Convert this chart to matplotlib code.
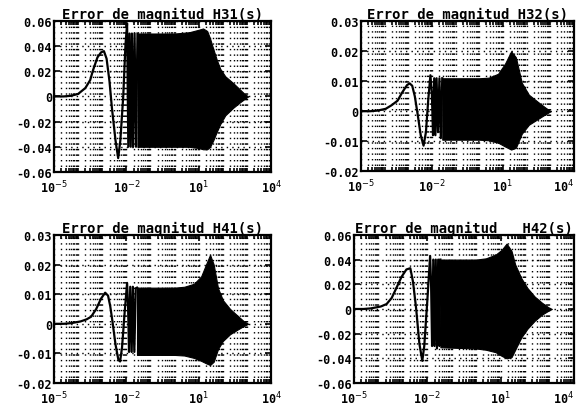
import numpy as np
import matplotlib
matplotlib.use('Agg')
import matplotlib.pyplot as plt
from matplotlib.ticker import LogLocator, FixedLocator, NullFormatter

# titles and axis ranges of the four panels
titles = ['Error de magnitud H31(s)', 'Error de magnitud H32(s)',
          'Error de magnitud H41(s)', 'Error de magnitud   H42(s)']
ylims = [(-0.06, 0.06), (-0.02, 0.03), (-0.02, 0.03), (-0.06, 0.06)]
yticks_big = [-0.06, -0.04, -0.02, 0, 0.02, 0.04, 0.06]
yticks_small = [-0.02, -0.01, 0, 0.01, 0.02, 0.03]
ylabels_big = ['-0.06', '-0.04', '-0.02', '0', '0.02', '0.04', '0.06']
ylabels_small = ['-0.02', '-0.01', '0', '0.01', '0.02', '0.03']
xticks = [1e-5, 1e-2, 1e1, 1e4]
xlabels = ['10$^{-5}$', '10$^{-2}$', '10$^{1}$', '10$^{4}$']

# low frequency part of each error curve (log10 of frequency, value)
h31_logw = [-5, -4.6, -4.3, -4.0, -3.7, -3.5, -3.38, -3.2, -3.05, -2.93, -2.82, -2.7, -2.6, -2.45,
            -2.34, -2.25, -2.13, -2.04, -1.97, -1.92, -1.87, -1.82, -1.77, -1.72, -1.66, -1.6, -1.54]
h31_err = [0, 0, 0.0005, 0.002, 0.0067, 0.013, 0.021, 0.031, 0.035, 0.036, 0.03, 0.012, -0.009, -0.035,
           -0.049, -0.035, 0.0, 0.04, 0.058, -0.04, 0.05, -0.04, 0.05, -0.04, 0.05, -0.04, 0.05]
h32_logw = [-5, -4.6, -4.3, -3.95, -3.7, -3.45, -3.25, -3.05, -2.94, -2.83, -2.72, -2.6, -2.47,
            -2.35, -2.25, -2.15, -2.06, -2.0, -1.95, -1.9, -1.85, -1.8, -1.74, -1.68, -1.62, -1.56]
h32_err = [0, 0, 0.0002, 0.0008, 0.002, 0.0035, 0.0063, 0.0087, 0.0093, 0.0085, 0.005, -0.001, -0.008,
           -0.0115, -0.007, 0.004, 0.012, 0.006, -0.008, 0.011, -0.008, 0.011, -0.007, 0.011, -0.009, 0.011]
h41_logw = [-5, -4.6, -4.3, -3.9, -3.65, -3.46, -3.25, -3.05, -2.88, -2.76, -2.67, -2.58, -2.45, -2.33,
            -2.26, -2.18, -2.07, -1.97, -1.93, -1.89, -1.84, -1.78, -1.73, -1.67, -1.61, -1.56]
h41_err = [0, 0, 0.0002, 0.0008, 0.0015, 0.0024, 0.005, 0.0085, 0.0105, 0.0095, 0.006, 0.001, -0.007, -0.0122,
           -0.0127, -0.008, 0.004, 0.0138, 0.006, -0.0095, 0.0125, -0.0095, 0.0125, -0.0095, 0.012, 0.0122]
h42_logw = [-5, -4.6, -4.3, -3.9, -3.66, -3.45, -3.26, -3.05, -2.85, -2.69, -2.58, -2.45, -2.32,
            -2.2, -2.12, -2.0, -1.88, -1.84, -1.8, -1.75, -1.7, -1.65, -1.6, -1.55, -1.5, -1.46]
h42_err = [0, 0, 0.0005, 0.002, 0.004, 0.009, 0.017, 0.026, 0.032, 0.033, 0.022, 0.0, -0.028,
           -0.042, -0.03, 0.005, 0.043, 0.02, -0.03, 0.04, -0.03, 0.04, -0.032, 0.04, -0.03, 0.04]

# envelope of the fast oscillation (filled black band)
h31_env_logw = [-1.54, 0.0, 0.6, 1.0, 1.18, 1.35, 1.47, 1.6, 1.75, 1.89, 2.1, 2.43, 2.72, 2.9, 3.05]
h31_env_hi = [0.05, 0.05, 0.051, 0.053, 0.054, 0.052, 0.046, 0.038, 0.029, 0.022, 0.016, 0.0106, 0.0053, 0.002, 0]
h31_env_lo = [-0.04, -0.04, -0.04, -0.041, -0.042, -0.042, -0.04, -0.035, -0.028, -0.022, -0.015, -0.009, -0.0045, -0.002, 0]
h32_env_logw = [-1.56, 0.0, 0.4, 0.8, 1.1, 1.35, 1.55, 1.8, 2.1, 2.5, 2.8, 3.02]
h32_env_hi = [0.011, 0.011, 0.0112, 0.0125, 0.016, 0.020, 0.018, 0.0095, 0.0055, 0.003, 0.0012, 0]
h32_env_lo = [-0.0095, -0.0095, -0.0097, -0.0105, -0.0118, -0.0128, -0.0122, -0.0075, -0.0045, -0.0025, -0.001, 0]
h41_env_logw = [-1.56, 0.0, 0.4, 0.8, 1.1, 1.3, 1.47, 1.62, 1.8, 2.0, 2.3, 2.6, 2.85, 3.05]
h41_env_hi = [0.0122, 0.0122, 0.0125, 0.0135, 0.016, 0.020, 0.0233, 0.020, 0.012, 0.008, 0.005, 0.0028, 0.001, 0]
h41_env_lo = [-0.0105, -0.0105, -0.0107, -0.0115, -0.0125, -0.0133, -0.0139, -0.0128, -0.0085, -0.0058, -0.0035, -0.002, -0.0008, 0]
h42_env_logw = [-1.46, 0.0, 0.4, 0.8, 1.05, 1.25, 1.45, 1.6, 1.85, 2.1, 2.4, 2.7, 2.95, 3.1]
h42_env_hi = [0.04, 0.04, 0.041, 0.044, 0.048, 0.053, 0.047, 0.036, 0.025, 0.017, 0.010, 0.005, 0.0015, 0]
h42_env_lo = [-0.031, -0.032, -0.033, -0.035, -0.038, -0.040, -0.039, -0.033, -0.023, -0.016, -0.0095, -0.0045, -0.0015, 0]

curves = [(h31_logw, h31_err), (h32_logw, h32_err), (h41_logw, h41_err), (h42_logw, h42_err)]
envs = [(h31_env_logw, h31_env_hi, h31_env_lo), (h32_env_logw, h32_env_hi, h32_env_lo),
        (h41_env_logw, h41_env_hi, h41_env_lo), (h42_env_logw, h42_env_hi, h42_env_lo)]

# axes boxes [left, bottom, width, height] in figure fraction
boxes = [[0.0928, 0.574, 0.373, 0.372], [0.620, 0.576, 0.366, 0.369],
         [0.0928, 0.054, 0.373, 0.365], [0.608, 0.054, 0.378, 0.365]]

fig = plt.figure(figsize=(5.82, 4.06), dpi=100)
mono = 'DejaVu Sans Mono'
dots = (0, (1, 3))

for i in range(4):
    ax = fig.add_axes(boxes[i])
    lw, err = curves[i]
    ax.plot(10 ** np.array(lw), err, color='black', lw=1.6)
    ew, hi, lo = envs[i]
    ax.fill_between(10 ** np.array(ew), lo, hi, color='black', lw=0.8)

    ax.set_xscale('log')
    ax.set_xlim(1e-5, 1e4)
    ax.set_ylim(*ylims[i])
    ax.xaxis.set_major_locator(FixedLocator(xticks))
    ax.set_xticklabels(xlabels, fontfamily=mono, fontweight='bold', fontsize=8.5)
    if i in (1, 3):
        ax.get_xticklabels()[-1].set_horizontalalignment('right')
    ax.xaxis.set_minor_locator(LogLocator(base=10, subs=np.arange(1, 10), numticks=100))
    ax.xaxis.set_minor_formatter(NullFormatter())
    if ylims[i][1] > 0.05:
        ax.set_yticks(yticks_big)
        ax.set_yticklabels(ylabels_big, fontfamily=mono, fontweight='bold', fontsize=8.5)
    else:
        ax.set_yticks(yticks_small)
        ax.set_yticklabels(ylabels_small, fontfamily=mono, fontweight='bold', fontsize=8.5)

    ax.grid(True, which='major', axis='y', linestyle=dots, color='black', lw=1.0)
    ax.grid(True, which='both', axis='x', linestyle=dots, color='black', lw=1.0)
    ax.tick_params(which='both', direction='in', top=True, right=True, width=1.2)
    ax.tick_params(axis='y', pad=1.5)
    ax.tick_params(axis='x', pad=4.5)
    ax.tick_params(which='major', length=4)
    ax.tick_params(which='minor', length=3)
    for s in ax.spines.values():
        s.set_linewidth(1.6)
    ax.set_title(titles[i], fontfamily=mono, fontweight='bold', fontsize=10, pad=0.5)

fig.savefig('out.png', dpi=100)
